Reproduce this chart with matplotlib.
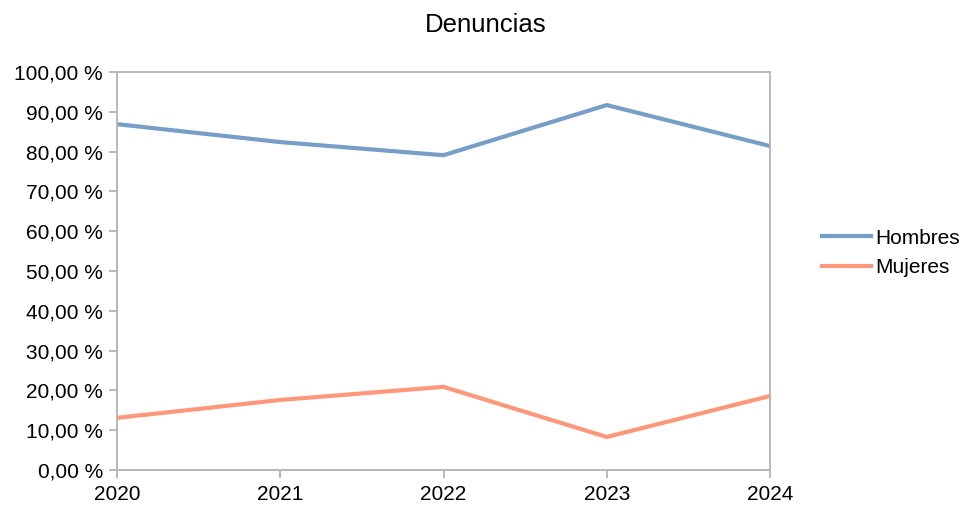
import matplotlib.pyplot as plt
from matplotlib.ticker import FuncFormatter

plt.rcParams['font.family'] = ['Liberation Sans', 'DejaVu Sans']

# datos
years = [2020, 2021, 2022, 2023, 2024]
hombres = [86.9, 82.4, 79.1, 91.7, 81.4]
mujeres = [13.1, 17.6, 20.9, 8.3, 18.6]

font_size = 15
grey = '#b3b3b3'

fig = plt.figure(figsize=(9.63, 5.09), dpi=100)
ax = fig.add_axes([0.1215, 0.0766, 0.6781, 0.7819])

ax.plot(years, hombres, linewidth=3, color='#779ec7', label='Hombres')
ax.plot(years, mujeres, linewidth=3, color='#ff977a', label='Mujeres')

ax.set_xlim(2020, 2024)
ax.set_ylim(0, 100)
ax.set_xticks(years)
ax.set_yticks(range(0, 101, 10))
ax.yaxis.set_major_formatter(FuncFormatter(lambda v, p: f'{v:.2f}'.replace('.', ',') + ' %'))

for s in ax.spines.values():
    s.set_color(grey)
    s.set_linewidth(1.3)
ax.tick_params(axis='both', colors=grey, labelcolor='black', labelsize=font_size, length=6, width=1.3)
ax.tick_params(axis='y', pad=4)
ax.tick_params(axis='x', pad=5)

fig.text(0.504, 0.95, 'Denuncias', ha='center', va='center', fontsize=18.5)

fig.legend(loc='center left', bbox_to_anchor=(0.854, 0.503), frameon=False, fontsize=font_size,
           handlelength=2.35, handletextpad=0.2, labelspacing=0.5, borderaxespad=0, borderpad=0)

plt.savefig('out.png', dpi=100)
